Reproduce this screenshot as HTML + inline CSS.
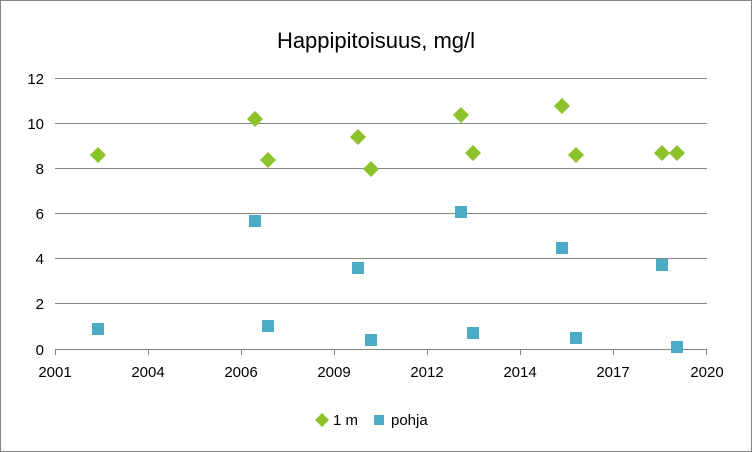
<!DOCTYPE html>
<html><head><meta charset="utf-8"><style>
html,body{margin:0;padding:0;background:#fff;}
svg{display:block;font-family:"Liberation Sans",Calibri,sans-serif;}
</style></head><body>
<svg width="752" height="452" viewBox="0 0 752 452" xmlns="http://www.w3.org/2000/svg">
<rect x="0.5" y="0.5" width="751" height="451" fill="#fff" stroke="#868686" stroke-width="1"/>
<text x="376" y="48" font-size="22" text-anchor="middle" fill="#000">Happipitoisuus, mg/l</text>
<g stroke="#868686" stroke-width="1">
<line x1="55" y1="78.5" x2="707" y2="78.5"/>
<line x1="55" y1="123.5" x2="707" y2="123.5"/>
<line x1="55" y1="168.5" x2="707" y2="168.5"/>
<line x1="55" y1="213.5" x2="707" y2="213.5"/>
<line x1="55" y1="258.5" x2="707" y2="258.5"/>
<line x1="55" y1="303.5" x2="707" y2="303.5"/>
<line x1="55" y1="349.5" x2="707" y2="349.5"/>
<line x1="55.5" y1="349" x2="55.5" y2="355"/>
<line x1="148.5" y1="349" x2="148.5" y2="355"/>
<line x1="241.5" y1="349" x2="241.5" y2="355"/>
<line x1="334.5" y1="349" x2="334.5" y2="355"/>
<line x1="427.5" y1="349" x2="427.5" y2="355"/>
<line x1="520.5" y1="349" x2="520.5" y2="355"/>
<line x1="613.5" y1="349" x2="613.5" y2="355"/>
<line x1="706.5" y1="349" x2="706.5" y2="355"/>
</g>
<g font-size="15" fill="#000" text-anchor="end">
<text x="44" y="84">12</text><text x="44" y="129">10</text><text x="44" y="174">8</text>
<text x="44" y="219">6</text><text x="44" y="264">4</text><text x="44" y="309">2</text><text x="44" y="355">0</text>
</g>
<g font-size="15" fill="#000" text-anchor="middle">
<text x="55" y="377">2001</text><text x="148" y="377">2004</text><text x="241" y="377">2006</text>
<text x="334" y="377">2009</text><text x="427" y="377">2012</text><text x="520" y="377">2014</text>
<text x="613" y="377">2017</text><text x="707" y="377">2020</text>
</g>
<g fill="#8CC22A">
<path d="M98 147l8 8-8 8-8-8z"/><path d="M255 111l8 8-8 8-8-8z"/><path d="M268 152l8 8-8 8-8-8z"/>
<path d="M358 129l8 8-8 8-8-8z"/><path d="M371 161l8 8-8 8-8-8z"/><path d="M461 107l8 8-8 8-8-8z"/>
<path d="M473 145l8 8-8 8-8-8z"/><path d="M562 98l8 8-8 8-8-8z"/><path d="M576 147l8 8-8 8-8-8z"/>
<path d="M662 145l8 8-8 8-8-8z"/><path d="M677 145l8 8-8 8-8-8z"/>
</g>
<g fill="#4BACC6">
<rect x="92" y="323" width="12" height="12"/><rect x="249" y="215" width="12" height="12"/><rect x="262" y="320" width="12" height="12"/>
<rect x="352" y="262" width="12" height="12"/><rect x="365" y="334" width="12" height="12"/><rect x="455" y="206" width="12" height="12"/>
<rect x="467" y="327" width="12" height="12"/><rect x="556" y="242" width="12" height="12"/><rect x="570" y="332" width="12" height="12"/>
<rect x="656" y="259" width="12" height="12"/><rect x="671" y="341" width="12" height="12"/>
</g>
<path d="M322 413l7 7-7 7-7-7z" fill="#8CC22A"/>
<text x="333" y="425" font-size="15">1 m</text>
<rect x="374" y="415" width="10" height="10" fill="#4BACC6"/>
<text x="391" y="425" font-size="15">pohja</text>
</svg>
</body></html>
